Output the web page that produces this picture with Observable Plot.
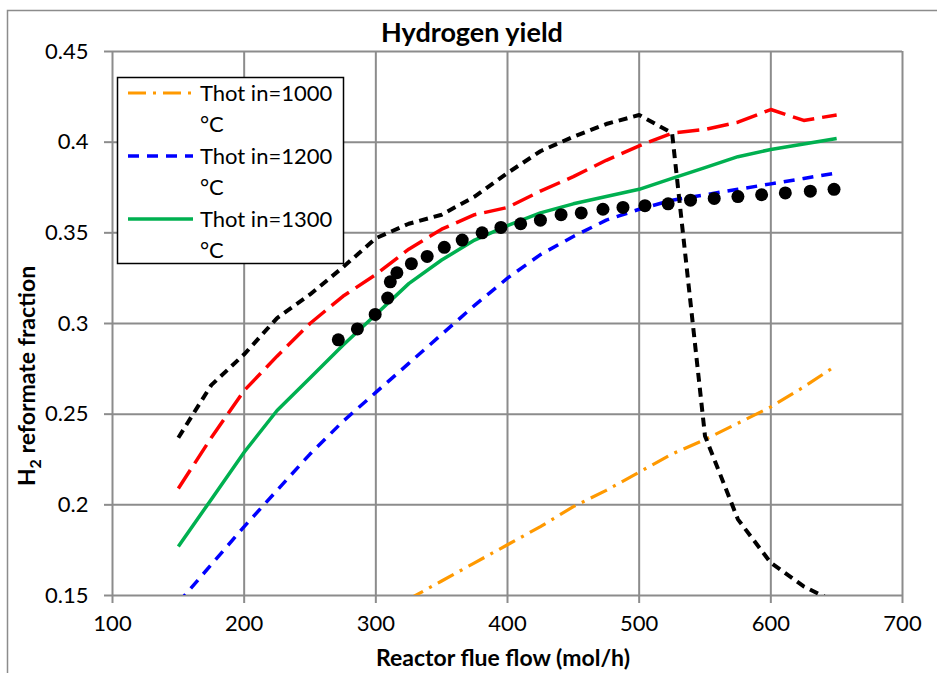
<!DOCTYPE html>
<html><head><meta charset="utf-8">
<script src="https://cdn.jsdelivr.net/npm/d3@7"></script>
<script src="https://cdn.jsdelivr.net/npm/@observablehq/plot@0.6"></script>
<style>body{margin:0;background:#fff} svg{display:block}</style>
</head><body><div id="chart"></div>
<script>
// ---- data ----
const flow = [150,175,200,225,250,275,300,325,350,375,400,425,450,475,500,525,550,575,600,625,650];
const h2Thot1000 = [null,null,null,null,null,null,0.139,0.148,0.158,0.168,0.178,0.188,0.199,0.208,0.218,0.228,0.236,0.245,0.254,0.265,0.277];
const h2Thot1200 = [0.146,0.167,0.188,0.208,0.228,0.246,0.262,0.278,0.294,0.310,0.325,0.338,0.348,0.357,0.363,0.368,0.371,0.374,0.377,0.380,0.383];
const h2Thot1300 = [0.177,0.203,0.229,0.252,0.270,0.288,0.305,0.322,0.335,0.346,0.354,0.361,0.366,0.370,0.374,0.380,0.386,0.392,0.396,0.399,0.402];
const h2Red      = [0.209,0.237,0.263,0.282,0.300,0.315,0.327,0.341,0.352,0.360,0.364,0.373,0.381,0.390,0.398,0.405,0.407,0.411,0.418,0.412,0.415];
const h2Black    = [0.237,0.266,0.283,0.303,0.316,0.331,0.347,0.355,0.360,0.370,0.383,0.395,0.403,0.410,0.415,0.405,0.238,0.192,0.168,0.155,0.146];
const dotFlow = [271.5,286,299.5,309,311,316,327,339,352,365.6,380.7,395,410,425,440.7,456,472.5,487.7,504.4,522,539,557,575,593,611,630,648];
const dotH2   = [0.291,0.297,0.305,0.314,0.323,0.328,0.333,0.337,0.342,0.346,0.350,0.353,0.355,0.357,0.360,0.361,0.363,0.364,0.365,0.366,0.368,0.369,0.370,0.371,0.372,0.373,0.374];
const xTicks = [100,200,300,400,500,600,700];
const yTicks = [0.15,0.2,0.25,0.3,0.35,0.4,0.45];
const legendLabels = ["Thot in=1000", "Thot in=1200", "Thot in=1300"];
const legendUnit = "°C";
const title = "Hydrogen yield";
const xLabel = "Reactor flue flow (mol/h)";

// ---- build table ----
const series = [
  {key:"1000", values:h2Thot1000, stroke:"#FF9900", dash:"18,7,3,7", width:3.2},
  {key:"1200", values:h2Thot1200, stroke:"#0000FF", dash:"11,8", width:3.5},
  {key:"1300", values:h2Thot1300, stroke:"#00B050", dash:null, width:3.5},
  {key:"red", values:h2Red, stroke:"#FF0000", dash:"22,8", width:3.5},
  {key:"black", values:h2Black, stroke:"#000000", dash:"9,6", width:4}
];
const gridColor = "#8c8c8c";
const FONT = "Lato, sans-serif";

const lineMarks = series.map(s => Plot.line(
  flow.map((x,i) => ({x, y: s.values[i]})),
  {x:"x", y:"y", stroke: s.stroke, strokeWidth: s.width, strokeDasharray: s.dash || undefined,
   strokeLinejoin:"round", strokeLinecap:"butt", curve:"linear", clip:true,
   defined: d => d.y != null}
));

const chart = Plot.plot({
  width: 937, height: 673,
  marginLeft: 112, marginRight: 35, marginTop: 51, marginBottom: 78,
  style: {fontFamily: FONT, fontSize: "22px", color: "#000", background: "#fff", overflow: "visible"},
  x: {domain: [100,700]},
  y: {domain: [0.15,0.45]},
  marks: [
    Plot.gridX(xTicks, {stroke: gridColor, strokeOpacity: 1, strokeWidth: 2}),
    Plot.gridY(yTicks, {stroke: gridColor, strokeOpacity: 1, strokeWidth: 2}),
    Plot.axisX({ticks: xTicks, tickSize: 8, tickPadding: 12, stroke: gridColor, strokeWidth: 2, fill: "#000", label: null}),
    Plot.axisY({ticks: yTicks, tickSize: 8, tickPadding: 16, stroke: gridColor, strokeWidth: 2, fill: "#000", label: null,
      tickFormat: d => String(+d.toFixed(2))}),
    ...lineMarks,
    Plot.dot(dotFlow.map((x,i) => ({x, y: dotH2[i]})), {x:"x", y:"y", r: 6.5, fill: "#000", stroke: "none"})
  ]
});
document.getElementById("chart").append(chart);

// ---- decorations: border, titles, legend ----
const svg = d3.select(chart);
svg.insert("rect", ":first-child").attr("x", 7.5).attr("y", 10.5).attr("width", 1000).attr("height", 1000)
  .attr("fill", "none").attr("stroke", gridColor).attr("stroke-width", 1.5);

svg.append("text").attr("x", 472).attr("y", 42).attr("text-anchor", "middle")
  .attr("font-family", FONT).attr("font-weight", "bold").attr("font-size", 27).text(title);

svg.append("text").attr("x", 503).attr("y", 666).attr("text-anchor", "middle")
  .attr("font-family", FONT).attr("font-weight", "bold").attr("font-size", 23).text(xLabel);

const yl = svg.append("text").attr("transform", "translate(35,376) rotate(-90)").attr("text-anchor", "middle")
  .attr("font-family", FONT).attr("font-weight", "bold").attr("font-size", 23);
yl.append("tspan").text("H");
yl.append("tspan").attr("font-size", 16).attr("dy", 6).text("2");
yl.append("tspan").attr("dy", -6).text(" reformate fraction");

const lg = svg.append("g").attr("font-family", FONT).attr("font-size", 22).attr("text-anchor", "start");
lg.append("rect").attr("x", 117.5).attr("y", 77.5).attr("width", 226).attr("height", 186)
  .attr("fill", "#fff").attr("stroke", "#000").attr("stroke-width", 1.5);
series.slice(0,3).forEach((s, i) => {
  const cy = 93 + i * 63;
  lg.append("line").attr("x1", 128).attr("x2", 193).attr("y1", cy).attr("y2", cy)
    .attr("stroke", s.stroke).attr("stroke-width", s.width).attr("stroke-dasharray", s.dash);
  lg.append("text").attr("x", 200).attr("y", cy + 8).attr("text-anchor", "start").text(legendLabels[i]);
  lg.append("text").attr("x", 200).attr("y", cy + 39).attr("text-anchor", "start").text(legendUnit);
});
</script></body></html>
